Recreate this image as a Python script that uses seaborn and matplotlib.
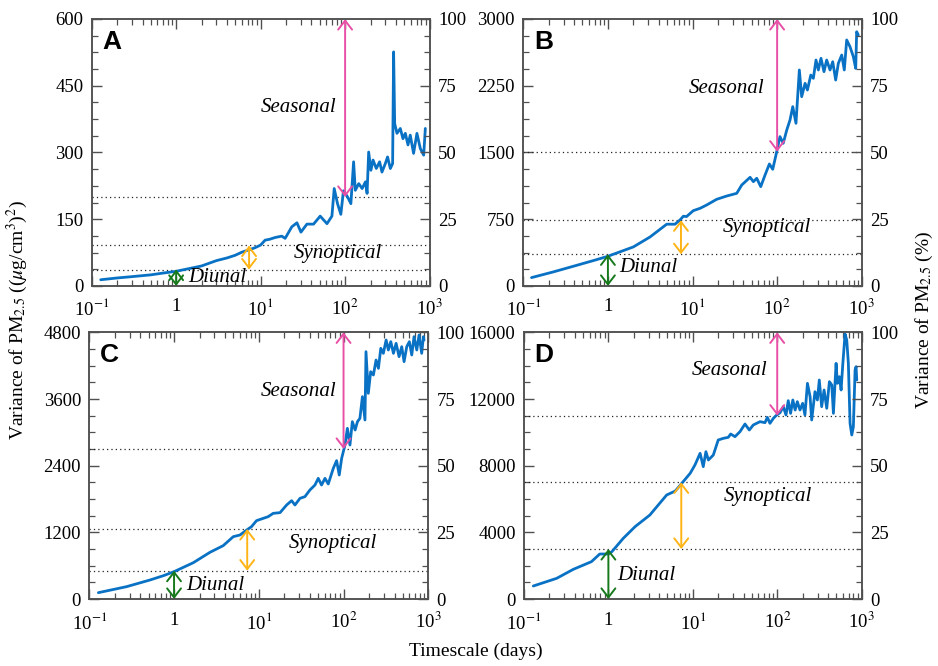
import matplotlib
matplotlib.use("Agg")
import matplotlib.pyplot as plt
import matplotlib.ticker as mticker
import pandas as pd
import seaborn as sns

# ---- data (timescale in days, variance in (ug/cm3)^2) ----
a_days = [0.128, 0.2, 0.3, 0.5, 0.7, 1.0, 1.5, 2.0, 3.0, 4.0, 5.0, 6.0, 7.5, 8.6, 10.0, 11.3, 12.8,
          14.9, 17.8, 19.5, 23.4, 26.9, 30.0, 35.3, 42.3, 50.7, 61, 69.8, 74.3, 81.3, 89, 95.6, 107,
          117, 126, 132, 145, 159, 174, 182, 190, 202, 214, 234, 256, 273, 299, 318, 343, 365, 375,
          386, 411, 450, 484, 516, 555, 590, 646, 708, 776, 851, 890]
a_var = [14, 18, 21, 25, 29, 33, 40, 45, 57, 63, 69, 76, 82, 86, 92, 103, 105,
         109, 112, 107, 133, 142, 121, 139, 139, 157, 140, 157, 219, 185, 161, 214, 200,
         185, 279, 215, 230, 219, 234, 208, 301, 260, 283, 264, 279, 256, 275, 290, 264, 275, 526,
         365, 343, 354, 331, 343, 317, 339, 298, 343, 309, 294, 354]

b_days = [0.125, 0.226, 0.427, 0.7, 1.0, 1.4, 2.0, 3.15, 4.95, 6.2, 7.1, 7.8, 8.5, 10.2, 12.3, 14.7,
          19.3, 25.4, 33.3, 38.2, 47.9, 52.4, 57.4, 64, 72, 81, 88.7, 98.9, 108, 118, 130, 142, 153,
          167, 183, 195, 214, 228, 250, 268, 288, 307, 330, 358, 385, 422, 454, 492, 529, 580, 622,
          664, 726, 795, 849, 871, 911]
b_var = [94, 158, 232, 290, 334, 385, 439, 551, 694, 694, 741, 784, 780, 846, 873, 910,
         974, 1011, 1041, 1135, 1221, 1172, 1210, 1116, 1247, 1371, 1311, 1509, 1678, 1603, 1753, 1865, 2015,
         1828, 2427, 2127, 2277, 2202, 2370, 2333, 2539, 2427, 2558, 2408, 2539, 2427, 2520, 2314, 2502, 2595, 2427,
         2764, 2689, 2577, 2445, 2857, 2820]

c_days = [0.128, 0.275, 0.52, 0.75, 1.0, 1.69, 2.65, 3.8, 5.0, 6.0, 7.2, 8.2, 9.4, 11.3, 12.9, 14.8,
          17.8, 21.3, 24.4, 26.7, 30.6, 35, 40.1, 46, 50.3, 55, 60.4, 66, 75.7, 82.8, 89, 95, 104,
          111, 119, 127, 137, 146, 156, 167, 179, 184, 196, 209, 225, 242, 258, 275, 295, 318, 338,
          361, 388, 417, 452, 486, 518, 557, 598, 638, 679, 731, 778, 836, 875, 891]
c_var = [114, 222, 342, 420, 492, 654, 840, 960, 1122, 1152, 1242, 1302, 1410, 1452, 1482, 1542,
         1554, 1692, 1770, 1692, 1812, 1842, 1962, 2052, 2172, 2052, 2172, 2070, 2352, 2490, 2232, 2532, 2772,
         3072, 2772, 3192, 3042, 3192, 3252, 3642, 3222, 4452, 3702, 4092, 4032, 4302, 4152, 4512, 4422, 4662, 4482,
         4632, 4422, 4602, 4362, 4542, 4272, 4542, 4632, 4392, 4722, 4482, 4752, 4422, 4722, 4662]

d_days = [0.129, 0.244, 0.384, 0.63, 0.79, 1.0, 1.1, 1.5, 2.07, 3.1, 4.9, 6.2, 7.4, 9.3, 10.6, 12.2,
          13.3, 14.3, 15.3, 17.5, 20, 23, 26.3, 28.1, 31.6, 36.2, 41.5, 46.7, 52, 62.5, 71.6, 76.4,
          82, 90, 98.6, 108, 118, 127, 135, 144, 153, 163, 173, 186, 200, 213, 228, 245, 256, 280,
          299, 315, 336, 359, 386, 415, 443, 463, 498, 516, 545, 571, 597, 636, 666, 696, 729, 764,
          798, 836, 859, 875]
d_var = [780, 1240, 1780, 2240, 2700, 2700, 2840, 3640, 4340, 5040, 6240, 6480, 6940, 7540, 8040, 8740,
         7940, 8840, 8340, 8640, 9540, 9640, 9700, 9900, 9740, 10040, 10500, 10140, 10440, 10640, 10580, 10900,
         10540, 10840, 11040, 11180, 11540, 11040, 11900, 11140, 11940, 11340, 11840, 11340, 11740, 11040, 12940, 12140, 10740, 12440,
         11940, 13140, 11540, 12540, 11440, 13040, 12840, 11140, 14140, 12940, 13340, 12540, 14040, 15900, 15540, 14140, 10540, 9840,
         10340, 13740, 13940, 13140]

panel_names = ["A", "B", "C", "D"]
y_max = [600, 3000, 4800, 16000]
# variance levels reached at 1 day, ~1 week and 100 days (dotted lines)
diurnal_level = [37, 356, 510, 3000]
synoptic_level = [91, 739, 1260, 7000]
seasonal_level = [200, 1508, 2700, 11000]
arrow_days = [1.0, 7.3, 100.0]
x_ticks = [0.1, 1, 10, 100, 1000]
x_tick_labels = ["10$^{-1}$", "1", "10$^{1}$", "10$^{2}$", "10$^{3}$"]
pct_ticks = [0, 25, 50, 75, 100]

series = [(a_days, a_var), (b_days, b_var), (c_days, c_var), (d_days, d_var)]

# ---- layout ----
axes_rects = [
    [0.0977, 0.5706, 0.3603, 0.4009],
    [0.5579, 0.5706, 0.3608, 0.4009],
    [0.0952, 0.1006, 0.3614, 0.4004],
    [0.5586, 0.1006, 0.3600, 0.4004],
]
# text anchors (days, variance)
seasonal_xy = [(27.9, 402), (25.4, 2221), (29.3, 3731), (27.6, 13738)]
synoptic_xy = [(83, 72), (75, 655), (75.7, 1002), (78.5, 6137)]
diurnal_xy = [(3.06, 20), (3.0, 210), (3.1, 252), (2.85, 1440)]

line_color = "#0a72c4"
green = "#167a1c"
orange = "#ffb416"
pink = "#e84fa6"
spine_color = "#505050"

sns.set_style("ticks")
plt.rcParams["font.family"] = ["Liberation Serif", "DejaVu Serif"]
plt.rcParams["mathtext.fontset"] = "stix"
plt.rcParams["font.size"] = 13
plt.rcParams["text.color"] = "black"
plt.rcParams["axes.labelcolor"] = "black"
plt.rcParams["xtick.labelcolor"] = "black"
plt.rcParams["ytick.labelcolor"] = "black"

fig = plt.figure(figsize=(9.38, 6.66), dpi=100)


def double_arrow(ax, x, y0, y1, color):
    ax.annotate("", xy=(x, y1), xytext=(x, y0), annotation_clip=False,
                arrowprops=dict(arrowstyle="<->,head_length=0.65,head_width=0.5",
                                color=color, lw=1.4, shrinkA=0, shrinkB=0,
                                mutation_scale=10))


for i, name in enumerate(panel_names):
    ax = fig.add_axes(axes_rects[i])
    days, var = series[i]
    df = pd.DataFrame({"days": days, "variance": var})
    sns.lineplot(data=df, x="days", y="variance", ax=ax, color=line_color, lw=2.0,
                 estimator=None, sort=False, zorder=3)
    ax.set_xscale("log")
    ax.set_xlim(0.1, 1000)
    ax.set_ylim(0, y_max[i])
    ax.set_xlabel("")
    ax.set_ylabel("")

    for lvl in (diurnal_level[i], synoptic_level[i], seasonal_level[i]):
        ax.axhline(lvl, color="#222222", lw=0.9, ls=(0, (1, 2.5)), zorder=2)

    double_arrow(ax, arrow_days[0], 0, diurnal_level[i], green)
    double_arrow(ax, arrow_days[1], diurnal_level[i], synoptic_level[i], orange)
    double_arrow(ax, arrow_days[2], seasonal_level[i], y_max[i], pink)

    ax.text(*seasonal_xy[i], "Seasonal", ha="center", va="center", style="italic", fontsize=15)
    ax.text(*synoptic_xy[i], "Synoptical", ha="center", va="center", style="italic", fontsize=15)
    ax.text(*diurnal_xy[i], "Diunal", ha="center", va="center", style="italic", fontsize=15)
    ax.text(0.06, 0.915, name, transform=ax.transAxes, ha="center", va="center", color="black",
            fontsize=19, fontweight="bold", family=["Liberation Sans", "DejaVu Sans"])

    ax.xaxis.set_major_locator(mticker.FixedLocator(x_ticks))
    ax.xaxis.set_major_formatter(mticker.FixedFormatter(x_tick_labels))
    ax.xaxis.set_minor_locator(mticker.LogLocator(base=10, subs=range(2, 10), numticks=20))
    ax.xaxis.set_minor_formatter(mticker.NullFormatter())
    ax.yaxis.set_major_locator(mticker.MultipleLocator(y_max[i] / 4))
    ax.yaxis.set_minor_locator(mticker.MultipleLocator(y_max[i] / 16))
    ax.yaxis.set_major_formatter(mticker.FuncFormatter(lambda v, p: f"{v:.0f}"))
    ax.tick_params(which="both", direction="in", top=True, bottom=True, left=True, right=False,
                   color=spine_color, labelcolor="black", labelsize=13.5)
    ax.tick_params(which="major", length=7, width=1)
    ax.tick_params(which="minor", length=4, width=0.9)
    ax.tick_params(axis="x", pad=9)
    ax.tick_params(axis="y", pad=6)

    ax2 = ax.twinx()
    ax2.set_ylim(0, 100)
    ax2.set_yticks(pct_ticks)
    ax2.yaxis.set_minor_locator(mticker.MultipleLocator(6.25))
    ax2.tick_params(which="both", direction="in", color=spine_color, labelcolor="black",
                    labelsize=13.5, pad=6)
    ax2.tick_params(which="major", length=7, width=1)
    ax2.tick_params(which="minor", length=4, width=0.9)
    for a in (ax, ax2):
        for sp in a.spines.values():
            sp.set_visible(True)
            sp.set_color(spine_color)
            sp.set_linewidth(1.1)

fig.text(0.019, 0.52, "Variance of PM$_{2.5}$ (($\\mu$g/cm$^3$)$^2$)", rotation=90,
         ha="center", va="center", fontsize=14, color="black")
fig.text(0.986, 0.52, "Variance of PM$_{2.5}$ (%)", rotation=90,
         ha="center", va="center", fontsize=14, color="black")
fig.text(0.507, 0.022, "Timescale (days)", ha="center", va="center", fontsize=14, color="black")

fig.savefig("out.png", dpi=100)
